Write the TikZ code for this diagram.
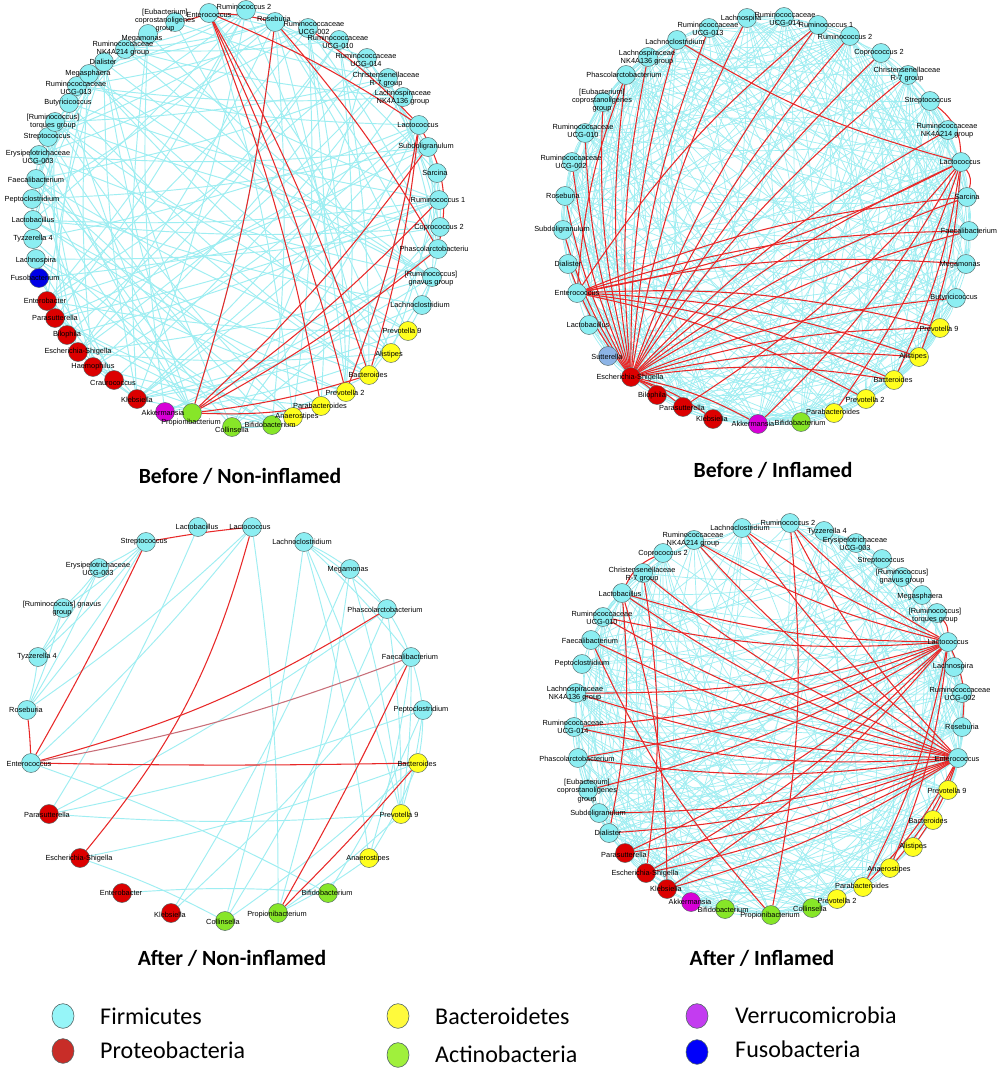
\documentclass[tikz,border=0pt]{standalone}
\usepackage{fontspec}
\setmainfont{Liberation Sans}
\newfontfamily\calib{Carlito}
\usetikzlibrary{shapes.geometric}
\pgfdeclarelayer{bg}\pgfdeclarelayer{fg}\pgfsetlayers{bg,main,fg}
\definecolor{cfir}{RGB}{140,238,242}
\definecolor{cpro}{RGB}{220,0,0}
\definecolor{cbac}{RGB}{255,255,30}
\definecolor{cact}{RGB}{135,230,40}
\definecolor{cver}{RGB}{215,0,215}
\definecolor{cfus}{RGB}{0,0,230}
\definecolor{csut}{RGB}{140,180,230}
\definecolor{cedge}{RGB}{158,238,242}
\definecolor{redge}{RGB}{232,40,40}
\definecolor{pedge}{RGB}{200,110,120}
\definecolor{ncirc}{RGB}{80,100,100}
\definecolor{lfir}{RGB}{150,245,248}
\definecolor{lpro}{RGB}{200,45,40}
\definecolor{lbac}{RGB}{255,250,60}
\definecolor{lact}{RGB}{160,240,60}
\definecolor{lver}{RGB}{195,60,240}
\definecolor{lfus}{RGB}{0,0,250}
\tikzset{
  nd/.style={circle,draw=ncirc,line width=0.4pt,minimum size=0.57cm,inner sep=0pt},
  fir/.style={nd,fill=cfir}, pro/.style={nd,fill=cpro}, bac/.style={nd,fill=cbac},
  act/.style={nd,fill=cact}, ver/.style={nd,fill=cver}, fus/.style={nd,fill=cfus},
  sut/.style={nd,fill=csut},
  lbl/.style={font=\fontsize{6.3}{6.9}\selectfont,align=center,inner sep=0pt,text=black},
  cyedge/.style={draw=cedge},
  rededge/.style={draw=redge,line width=0.9pt},
  ttl/.style={font=\calib\bfseries\fontsize{18.5}{20}\selectfont,inner sep=0pt},
  legc/.style={ellipse,draw=ncirc,line width=0.5pt,minimum width=0.66cm,minimum height=0.74cm,inner sep=0pt},
  legt/.style={font=\calib\fontsize{20.5}{22}\selectfont,anchor=west,inner sep=0pt}
}
\newcommand\mynode[7]{\node[#4] (#1) at (#2,#3) {};\begin{pgfonlayer}{fg}\node[lbl] (#1l) at (#5,#6) {#7};\end{pgfonlayer}}
\newcommand\randedges[5]{%
  \foreach \i in {1,...,#2}{\foreach \j in {1,...,#2}{%
    \ifnum\j>\i\relax
      \pgfmathsetmacro\myrnd{rnd}%
      \ifdim\myrnd pt<#3pt\relax
        \draw[cyedge,line width=#5] (#1\i) to[bend left=#4] (#1\j);
      \fi
    \fi}}}
\newcommand\rededges[4]{\foreach \k in {#3}{\draw[rededge] (#1#2) to[bend left=#4] (#1\k);}}
\begin{document}
\begin{tikzpicture}[x=0.03cm,y=-0.03cm]
\begin{pgfonlayer}{bg}
\fill[white] (0,0) rectangle (1000,1073);
\end{pgfonlayer}
\useasboundingbox (0,0) rectangle (1000,1073);
\pgfmathsetseed{7}
% ---------------- Panel A: Before / Non-inflamed
\mynode{a1}{209}{13}{fir}{209}{15}{Enterococcus}
\mynode{a2}{246}{10}{fir}{244}{7}{Ruminococcus 2}
\mynode{a3}{275}{22}{fir}{274}{19}{Roseburia}
\mynode{a4}{308}{28}{fir}{314}{28}{Ruminococcaceae\\UCG-002}
\mynode{a5}{339}{40}{fir}{338}{42}{Ruminococcaceae\\UCG-010}
\mynode{a6}{367}{58}{fir}{366}{60}{Ruminococcaceae\\UCG-014}
\mynode{a7}{388}{78}{fir}{386}{80}{Christensenellaceae\\R-7 group}
\mynode{a8}{403}{97}{fir}{403}{98}{Lachnospiraceae\\NK4A136 group}
\mynode{a9}{419}{125}{fir}{418}{125}{Lactococcus}
\mynode{a10}{428}{147}{fir}{426}{147}{Subdoligranulum}
\mynode{a11}{437}{173}{fir}{435}{173}{Sarcina}
\mynode{a12}{439}{200}{fir}{438}{200}{Ruminococcus 1}
\mynode{a13}{440}{227}{fir}{439}{228}{Coprococcus 2}
\mynode{a14}{438}{249}{fir}{434}{249}{Phascolarctobacteriu}
\mynode{a15}{432}{277}{fir}{431}{279}{[Ruminococcus]\\gnavus group}
\mynode{a16}{422}{305}{fir}{420}{305}{Lachnoclostridium}
\mynode{a17}{408}{331}{bac}{402}{331}{Prevotella 9}
\mynode{a18}{391}{353}{bac}{389}{355}{Alistipes}
\mynode{a19}{369}{375}{bac}{368}{375}{Bacteroides}
\mynode{a20}{346}{392}{bac}{345}{393}{Prevotella 2}
\mynode{a21}{321}{406}{bac}{320}{406}{Parabacteroides}
\mynode{a22}{293}{417}{bac}{297}{417}{Anaerostipes}
\mynode{a23}{272}{425}{act}{270}{425}{Bifidobacterium}
\mynode{a24}{232}{427}{act}{232}{430}{Collinsella}
\mynode{a25}{192}{413}{act}{191}{423}{Propionibacterium}
\mynode{a26}{165}{412}{ver}{163}{413}{Akkermansia}
\mynode{a27}{137}{399}{pro}{137}{400}{Klebsiella}
\mynode{a28}{114}{380}{pro}{113}{383}{Craurococcus}
\mynode{a29}{93}{367}{pro}{93}{367}{Haemophilus}
\mynode{a30}{78}{352}{pro}{78}{352}{Escherichia-Shigella}
\mynode{a31}{67}{335}{pro}{67}{335}{Bilophila}
\mynode{a32}{55}{318}{pro}{55}{318}{Parasutterella}
\mynode{a33}{47}{301}{pro}{45}{301}{Enterobacter}
\mynode{a34}{39}{278}{fus}{35}{278}{Fusobacterium}
\mynode{a35}{36}{259}{fir}{36}{261}{Lachnospira}
\mynode{a36}{33}{239}{fir}{33}{239}{Tyzzerella 4}
\mynode{a37}{33}{220}{fir}{33}{220}{Lactobacillus}
\mynode{a38}{32}{199}{fir}{32}{200}{Peptoclostridium}
\mynode{a39}{36}{179}{fir}{36}{180}{Faecalibacterium}
\mynode{a40}{39}{155}{fir}{38}{157}{Erysipelotrichaceae\\UCG-003}
\mynode{a41}{48}{137}{fir}{47}{137}{Streptococcus}
\mynode{a42}{55}{122}{fir}{53}{122}{[Ruminococcus]\\torques group}
\mynode{a43}{69}{103}{fir}{68}{103}{Butyricicoccus}
\mynode{a44}{77}{86}{fir}{76}{88}{Ruminococcaceae\\UCG-013}
\mynode{a45}{89}{74}{fir}{88}{74}{Megasphaera}
\mynode{a46}{104}{62}{fir}{103}{62}{Dialister}
\mynode{a47}{125}{49}{fir}{123}{49}{Ruminococcaceae\\NK4A214 group}
\mynode{a48}{148}{34}{fir}{142}{39}{Megamonas}
\mynode{a49}{175}{22}{fir}{165}{21}{[Eubacterium]\\coprostanoligenes\\group}
\begin{pgfonlayer}{bg}
\randedges{a}{49}{0.14}{5}{0.8pt}
\rededges{a}{1}{3,49,9,19,20,21}{5}
\rededges{a}{3}{14}{5}
\rededges{a}{4}{9}{5}
\rededges{a}{9}{19,20}{5}
\draw[rededge] (a9) to[bend left=20] (a14);
\rededges{a}{25}{3,10,12,14,19,21}{-5}
\end{pgfonlayer}
% ---------------- Panel B: Before / Inflamed
\mynode{b1}{747}{18}{fir}{741}{19}{Lachnospira}
\mynode{b2}{784}{17}{fir}{785}{19}{Ruminococcaceae\\UCG-014}
\mynode{b3}{818}{25}{fir}{826}{25}{Ruminococcus 1}
\mynode{b4}{850}{36}{fir}{845}{37}{Ruminococcus 2}
\mynode{b5}{881}{53}{fir}{879}{53}{Coprococcus 2}
\mynode{b6}{908}{75}{fir}{907}{75}{Christensenellaceae\\R-7 group}
\mynode{b7}{930}{101}{fir}{928}{101}{Streptococcus}
\mynode{b8}{948}{130}{fir}{947}{131}{Ruminococcaceae\\NK4A214 group}
\mynode{b9}{961}{162}{fir}{960}{162}{Lactococcus}
\mynode{b10}{967}{197}{fir}{967}{197}{Sarcina}
\mynode{b11}{969}{231}{fir}{969}{231}{Faecalibacterium}
\mynode{b12}{966}{264}{fir}{960}{265}{Megamonas}
\mynode{b13}{956}{298}{fir}{954}{298}{Butyricicoccus}
\mynode{b14}{940}{328}{bac}{939}{329}{Prevotella 9}
\mynode{b15}{919}{357}{bac}{913}{357}{Alistipes}
\mynode{b16}{894}{380}{bac}{893}{380}{Bacteroides}
\mynode{b17}{866}{399}{bac}{865}{400}{Prevotella 2}
\mynode{b18}{834}{413}{bac}{833}{412}{Parabacteroides}
\mynode{b19}{801}{422}{act}{800}{423}{Bifidobacterium}
\mynode{b20}{758}{424}{ver}{753}{424}{Akkermansia}
\mynode{b21}{713}{419}{pro}{712}{419}{Klebsiella}
\mynode{b22}{683}{407}{pro}{682}{408}{Parasutterella}
\mynode{b23}{657}{395}{pro}{652}{396}{Bilophila}
\mynode{b24}{631}{377}{pro}{630}{378}{Escherichia-Shigella}
\mynode{b25}{608}{356}{sut}{607}{357}{Sutterella}
\mynode{b26}{589}{325}{fir}{588}{325}{Lactobacillus}
\mynode{b27}{577}{293}{fir}{577}{293}{Enterococcus}
\mynode{b28}{568}{264}{fir}{568}{264}{Dialister}
\mynode{b29}{563}{230}{fir}{562}{230}{Subdoligranulum}
\mynode{b30}{565}{196}{fir}{563}{196}{Roseburia}
\mynode{b31}{572}{162}{fir}{571}{162}{Ruminococcaceae\\UCG-002}
\mynode{b32}{585}{133}{fir}{583}{131}{Ruminococcaceae\\UCG-010}
\mynode{b33}{603}{102}{fir}{602}{101}{[Eubacterium]\\coprostanoligenes\\group}
\mynode{b34}{626}{75}{fir}{624}{75}{Phascolarctobacterium}
\mynode{b35}{648}{57}{fir}{647}{58}{Lachnospiraceae\\NK4A136 group}
\mynode{b36}{677}{40}{fir}{675}{42}{Lachnoclostridium}
\mynode{b37}{709}{28}{fir}{708}{29}{Ruminococcaceae\\UCG-013}
\begin{pgfonlayer}{bg}
\randedges{b}{37}{0.5}{10}{0.6pt}
\rededges{b}{24}{1,37,35,34,33,32,31,30,29,28,3,4,5,6,8,9,10,11,13,14,15,16,23,22,21,20,36}{8}
\rededges{b}{27}{14,15,16,11,10,34,3,17,12}{8}
\rededges{b}{9}{18,20,16,15,36,27,22}{8}
\draw[rededge] (b9) to[bend right=25] (b7);
\draw[rededge] (b9) to[bend left=25] (b10);
\end{pgfonlayer}
% ---------------- Panel C: After / Non-inflamed
\mynode{c1}{198}{527}{fir}{197}{527}{Lactobacillus}
\mynode{c2}{252}{527}{fir}{250}{527}{Lactococcus}
\mynode{c3}{304}{542}{fir}{302}{542}{Lachnoclostridium}
\mynode{c4}{350}{569}{fir}{348}{570}{Megamonas}
\mynode{c5}{387}{609}{fir}{385}{610}{Phascolarctobacterium}
\mynode{c6}{411}{657}{fir}{410}{657}{Faecalibacterium}
\mynode{c7}{423}{710}{fir}{421}{710}{Peptoclostridium}
\mynode{c8}{418}{763}{bac}{417}{764}{Bacteroides}
\mynode{c9}{401}{814}{bac}{399}{815}{Prevotella 9}
\mynode{c10}{369}{858}{bac}{368}{859}{Anaerostipes}
\mynode{c11}{328}{893}{act}{327}{893}{Bifidobacterium}
\mynode{c12}{278}{913}{act}{277}{915}{Propionibacterium}
\mynode{c13}{225}{921}{act}{223}{922}{Collinsella}
\mynode{c14}{171}{913}{pro}{170}{915}{Klebsiella}
\mynode{c15}{122}{893}{pro}{121}{893}{Enterobacter}
\mynode{c16}{80}{858}{pro}{79}{859}{Escherichia-Shigella}
\mynode{c17}{49}{814}{pro}{47}{815}{Parasutterella}
\mynode{c18}{31}{763}{fir}{29}{764}{Enterococcus}
\mynode{c19}{27}{710}{fir}{26}{710}{Roseburia}
\mynode{c20}{38}{657}{fir}{37}{657}{Tyzzerella 4}
\mynode{c21}{63}{608}{fir}{62}{609}{[Ruminococcus] gnavus\\group}
\mynode{c22}{99}{568}{fir}{98}{569}{Erysipelotrichaceae\\UCG-003}
\mynode{c23}{146}{542}{fir}{144}{542}{Streptococcus}
\begin{pgfonlayer}{bg}
\foreach \u/\v in {c23/c22,c23/c21,c23/c20,c23/c19,c22/c21,c22/c20,c22/c19,c21/c20,c21/c19,c20/c19,
  c1/c17,c2/c18,c2/c19,c2/c12,c3/c4,c3/c5,c3/c6,c3/c10,c3/c13,c3/c9,c4/c5,c4/c9,c4/c14,c4/c12,
  c5/c6,c5/c9,c5/c13,c5/c17,c6/c7,c6/c9,c6/c10,c7/c8,c7/c9,c7/c17,c8/c10,c8/c16,c9/c17,c18/c11,
  c15/c11,c16/c13,c7/c11,c9/c12,c10/c12,c6/c14,c8/c13}
  {\draw[cyedge,line width=0.8pt] (\u) to[bend left=4] (\v);}
\draw[rededge] (c23) to[bend left=2] (c2);
\draw[rededge] (c2) to[bend left=12] (c16);
\draw[rededge] (c23) to[bend left=2] (c18);
\draw[rededge] (c19) to[bend left=2] (c18);
\draw[rededge] (c18) to[bend right=8] (c5);
\draw[rededge,draw=pedge] (c18) to[bend right=5] (c6);
\draw[rededge] (c18) to[bend right=1] (c8);
\draw[rededge] (c6) to[bend left=2] (c12);
\draw[rededge] (c8) to[bend left=2] (c12);
\end{pgfonlayer}
% ---------------- Panel D: After / Inflamed
\mynode{d1}{742}{528}{fir}{740}{528}{Lachnoclostridium}
\mynode{d2}{790}{523}{fir}{788}{523}{Ruminococcus 2}
\mynode{d3}{824}{531}{fir}{827}{532}{Tyzzerella 4}
\mynode{d4}{856}{543}{fir}{855}{544}{Erysipelotrichaceae\\UCG-003}
\mynode{d5}{882}{559}{fir}{881}{561}{Streptococcus}
\mynode{d6}{902}{577}{fir}{902}{577}{[Ruminococcus]\\gnavus group}
\mynode{d7}{922}{595}{fir}{920}{597}{Megasphaera}
\mynode{d8}{937}{613}{fir}{935}{616}{[Ruminococcus]\\torques group}
\mynode{d9}{948}{642}{fir}{948}{642}{Lactococcus}
\mynode{d10}{954}{667}{fir}{953}{667}{Lachnospira}
\mynode{d11}{962}{693}{fir}{960}{694}{Ruminococcaceae\\UCG-002}
\mynode{d12}{962}{727}{fir}{962}{727}{Roseburia}
\mynode{d13}{958}{758}{fir}{957}{759}{Enterococcus}
\mynode{d14}{948}{790}{bac}{947}{791}{Prevotella 9}
\mynode{d15}{933}{820}{bac}{928}{821}{Bacteroides}
\mynode{d16}{913}{847}{bac}{913}{847}{Alistipes}
\mynode{d17}{890}{868}{bac}{889}{870}{Anaerostipes}
\mynode{d18}{863}{887}{bac}{862}{886}{Parabacteroides}
\mynode{d19}{837}{899}{bac}{837}{901}{Prevotella 2}
\mynode{d20}{812}{908}{act}{810}{909}{Collinsella}
\mynode{d21}{771}{915}{act}{770}{916}{Propionibacterium}
\mynode{d22}{725}{909}{act}{723}{910}{Bifidobacterium}
\mynode{d23}{691}{902}{ver}{690}{902}{Akkermansia}
\mynode{d24}{667}{889}{pro}{666}{889}{Klebsiella}
\mynode{d25}{646}{873}{pro}{645}{874}{Escherichia-Shigella}
\mynode{d26}{625}{853}{pro}{624}{855}{Parasutterella}
\mynode{d27}{609}{833}{fir}{608}{833}{Dialister}
\mynode{d28}{599}{813}{fir}{598}{814}{Subdoligranulum}
\mynode{d29}{588}{790}{fir}{587}{791}{[Eubacterium]\\coprostanoligenes\\group}
\mynode{d30}{578}{758}{fir}{577}{759}{Phascolarctobacterium}
\mynode{d31}{574}{727}{fir}{573}{727}{Ruminococcaceae\\UCG-014}
\mynode{d32}{576}{693}{fir}{575}{694}{Lachnospiraceae\\NK4A136 group}
\mynode{d33}{582}{664}{fir}{582}{664}{Peptoclostridium}
\mynode{d34}{591}{640}{fir}{590}{641}{Faecalibacterium}
\mynode{d35}{603}{617}{fir}{602}{618}{Ruminococcaceae\\UCG-010}
\mynode{d36}{622}{593}{fir}{620}{594}{Lactobacillus}
\mynode{d37}{643}{573}{fir}{642}{575}{Christensenellaceae\\R-7 group}
\mynode{d38}{663}{553}{fir}{663}{554}{Coprococcus 2}
\mynode{d39}{694}{540}{fir}{693}{540}{Ruminococcaceae\\NK4A214 group}
\begin{pgfonlayer}{bg}
\randedges{d}{39}{0.38}{10}{0.6pt}
\rededges{d}{9}{36,35,39,1,2,32,31,30,29,24,25,26,17,18}{8}
\rededges{d}{13}{36,35,34,32,31,30,28,27,26,25,24,18,17,16,39,1,37,2}{8}
\rededges{d}{36}{27,24}{8}
\draw[rededge] (d36) to[bend left=20] (d38);
\draw[rededge] (d9) to[bend right=20] (d8);
\draw[rededge] (d9) to[bend left=15] (d12);
\draw[rededge] (d37) to[bend left=8] (d25);
\draw[rededge] (d21) to[bend left=8] (d34);
\draw[rededge] (d2) to[bend left=8] (d21);
\end{pgfonlayer}
% ---------------- Titles
\node[ttl] (t1) at (240,476) {Before / Non-inflamed};
\node[ttl] (t2) at (773,470) {Before / Inflamed};
\node[ttl] (t3) at (232,958) {After / Non-inflamed};
\node[ttl] (t4) at (762,958) {After / Inflamed};
% ---------------- Legend
\node[legc,fill=lfir] (g1) at (63,1016) {};
\node[legt] (g1t) at (100,1016) {Firmicutes};
\node[legc,fill=lpro] (g2) at (63,1051) {};
\node[legt] (g2t) at (100,1050) {Proteobacteria};
\node[legc,fill=lbac] (g3) at (398,1016) {};
\node[legt] (g3t) at (435,1016) {Bacteroidetes};
\node[legc,fill=lact] (g4) at (398,1055) {};
\node[legt] (g4t) at (435,1054) {Actinobacteria};
\node[legc,fill=lver] (g5) at (697,1016) {};
\node[legt] (g5t) at (735,1015) {Verrucomicrobia};
\node[legc,fill=lfus] (g6) at (697,1052) {};
\node[legt] (g6t) at (735,1049) {Fusobacteria};
\end{tikzpicture}
\end{document}
